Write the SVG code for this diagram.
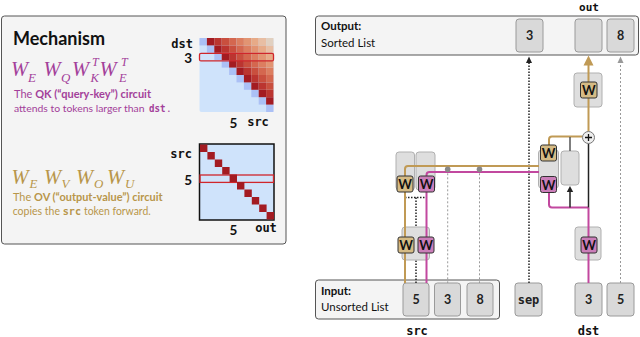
<svg xmlns="http://www.w3.org/2000/svg" width="640" height="337" viewBox="0 0 640 337">
<style>
.sans{font-family:Lato,"Noto Sans","Liberation Sans",sans-serif}
.mono{font-family:"DejaVu Sans Mono","Liberation Mono",monospace;font-weight:bold}
.math{font-family:"Liberation Serif","DejaVu Serif",serif;font-style:italic}
.panel{fill:#f4f4f4;stroke:#555;stroke-width:1}
.tok{fill:#d9d9d9;stroke:#9a9a9a;stroke-width:1}
.comp{fill:#dedede;stroke:#b0b0b0;stroke-width:1}
.wg{fill:#d5bb85;stroke:#333;stroke-width:1}
.wp{fill:#cb7eb9;stroke:#333;stroke-width:1}
.wt{font-family:Lato,"Noto Sans",sans-serif;font-weight:bold;font-size:13px;fill:#111;text-anchor:middle}
.tl{font-family:Lato,"Noto Sans",sans-serif;font-weight:bold;font-size:12.5px;fill:#222;text-anchor:middle}
.gold{fill:none;stroke:#c09a55;stroke-width:2}
.pink{fill:none;stroke:#c2489f;stroke-width:2}
.blk{fill:none;stroke:#222;stroke-width:1.5}
.dotk{fill:none;stroke:#222;stroke-width:1.5;stroke-dasharray:1.5 1.5}
.dotg{fill:none;stroke:#999;stroke-width:1;stroke-dasharray:2 2}
.mg{fill:#a3409a}
.gd{fill:#b8964a}
</style>

<!-- Left panel: mechanism -->
<g id="mechanism-panel">
<rect class="panel" x="1.5" y="16" width="284.5" height="228" rx="3"/>
<text class="sans" x="13" y="45" font-size="18" font-weight="bold" fill="#111">Mechanism</text>
<text class="math mg" font-size="20.5"><tspan x="11" y="76">W</tspan><tspan x="28" y="82" font-size="13">E</tspan><tspan x="43.5" y="76">W</tspan><tspan x="61" y="82" font-size="13">Q</tspan><tspan x="72" y="76">W</tspan><tspan x="90.5" y="81.5" font-size="12.5">K</tspan><tspan x="92" y="66" font-size="12">T</tspan><tspan x="99.5" y="76">W</tspan><tspan x="119" y="81.5" font-size="12.5">E</tspan><tspan x="121" y="66" font-size="12">T</tspan></text>
<text class="sans mg" x="14" y="98" font-size="11.5" textLength="137" lengthAdjust="spacingAndGlyphs">The <tspan font-weight="bold">QK (“query-key”) circuit</tspan></text>
<text class="sans mg" x="14" y="112" font-size="10.4" textLength="130.5" lengthAdjust="spacingAndGlyphs">attends to tokens larger than</text>
<text class="mono mg" x="149" y="112" font-size="10" textLength="16.5" lengthAdjust="spacingAndGlyphs">dst</text>
<text class="sans mg" x="167.5" y="112" font-size="11.5">.</text>
<text class="math gd" font-size="20.5"><tspan x="11.5" y="183.5">W</tspan><tspan x="29.5" y="188" font-size="13">E</tspan><tspan x="44" y="183.5">W</tspan><tspan x="61.5" y="188" font-size="13">V</tspan><tspan x="76" y="183.5">W</tspan><tspan x="94" y="188" font-size="13">O</tspan><tspan x="107" y="183.5">W</tspan><tspan x="125" y="188" font-size="13">U</tspan></text>
<text class="sans gd" x="13" y="201" font-size="11.5" textLength="149.5" lengthAdjust="spacingAndGlyphs">The <tspan font-weight="bold">OV (“output-value”) circuit</tspan></text>
<text class="sans gd" x="12.7" y="214.5" font-size="11.5" textLength="47.3" lengthAdjust="spacingAndGlyphs">copies the</text>
<text class="mono gd" x="62.7" y="214.5" font-size="10" textLength="18.3" lengthAdjust="spacingAndGlyphs">src</text>
<text class="sans gd" x="84" y="214.5" font-size="11.5" textLength="66.7" lengthAdjust="spacingAndGlyphs">token forward.</text>
</g>

<g id="qk-matrix">
<rect x="199.5" y="38" width="74" height="74" rx="2" fill="#cfe3fb"/>
<g fill="#abc0f5">
<rect x="199.5" y="38" width="7.4" height="7.4"/><rect x="206.9" y="45.4" width="7.4" height="7.4"/><rect x="214.3" y="52.8" width="7.4" height="7.4"/><rect x="221.7" y="60.2" width="7.4" height="7.4"/><rect x="229.1" y="67.6" width="7.4" height="7.4"/><rect x="236.5" y="75" width="7.4" height="7.4"/><rect x="243.9" y="82.4" width="7.4" height="7.4"/><rect x="251.3" y="89.8" width="7.4" height="7.4"/><rect x="258.7" y="97.2" width="7.4" height="7.4"/><rect x="266.1" y="104.6" width="7.4" height="7.4"/>
</g>
<g fill="#a31b22">
<rect x="206.9" y="38" width="7.4" height="7.4"/><rect x="214.3" y="45.4" width="7.4" height="7.4"/><rect x="221.7" y="52.8" width="7.4" height="7.4"/><rect x="229.1" y="60.2" width="7.4" height="7.4"/><rect x="236.5" y="67.6" width="7.4" height="7.4"/><rect x="243.9" y="75" width="7.4" height="7.4"/><rect x="251.3" y="82.4" width="7.4" height="7.4"/><rect x="258.7" y="89.8" width="7.4" height="7.4"/><rect x="266.1" y="97.2" width="7.4" height="7.4"/>
</g>
<g fill="#bb3530">
<rect x="214.3" y="38" width="7.4" height="7.4"/><rect x="221.7" y="45.4" width="7.4" height="7.4"/><rect x="229.1" y="52.8" width="7.4" height="7.4"/><rect x="236.5" y="60.2" width="7.4" height="7.4"/><rect x="243.9" y="67.6" width="7.4" height="7.4"/><rect x="251.3" y="75" width="7.4" height="7.4"/><rect x="258.7" y="82.4" width="7.4" height="7.4"/><rect x="266.1" y="89.8" width="7.4" height="7.4"/>
</g>
<g fill="#c94f3e">
<rect x="221.7" y="38" width="7.4" height="7.4"/><rect x="229.1" y="45.4" width="7.4" height="7.4"/><rect x="236.5" y="52.8" width="7.4" height="7.4"/><rect x="243.9" y="60.2" width="7.4" height="7.4"/><rect x="251.3" y="67.6" width="7.4" height="7.4"/><rect x="258.7" y="75" width="7.4" height="7.4"/><rect x="266.1" y="82.4" width="7.4" height="7.4"/>
</g>
<g fill="#d4674f">
<rect x="229.1" y="38" width="7.4" height="7.4"/><rect x="236.5" y="45.4" width="7.4" height="7.4"/><rect x="243.9" y="52.8" width="7.4" height="7.4"/><rect x="251.3" y="60.2" width="7.4" height="7.4"/><rect x="258.7" y="67.6" width="7.4" height="7.4"/><rect x="266.1" y="75" width="7.4" height="7.4"/>
</g>
<g fill="#dc7e60">
<rect x="236.5" y="38" width="7.4" height="7.4"/><rect x="243.9" y="45.4" width="7.4" height="7.4"/><rect x="251.3" y="52.8" width="7.4" height="7.4"/><rect x="258.7" y="60.2" width="7.4" height="7.4"/><rect x="266.1" y="67.6" width="7.4" height="7.4"/>
</g>
<g fill="#e29472">
<rect x="243.9" y="38" width="7.4" height="7.4"/><rect x="251.3" y="45.4" width="7.4" height="7.4"/><rect x="258.7" y="52.8" width="7.4" height="7.4"/><rect x="266.1" y="60.2" width="7.4" height="7.4"/>
</g>
<g fill="#e7aa87">
<rect x="251.3" y="38" width="7.4" height="7.4"/><rect x="258.7" y="45.4" width="7.4" height="7.4"/><rect x="266.1" y="52.8" width="7.4" height="7.4"/>
</g>
<g fill="#e8bea3">
<rect x="258.7" y="38" width="7.4" height="7.4"/><rect x="266.1" y="45.4" width="7.4" height="7.4"/>
</g>
<rect x="266.1" y="38" width="7.4" height="7.4" fill="#e1d0c0"/>
<rect x="199.5" y="53.3" width="74" height="7.6" rx="1.5" fill="none" stroke="#d0262b" stroke-width="1.3"/>
<text class="mono" x="193" y="48" font-size="12" text-anchor="end" fill="#111">dst</text>
<text class="sans" x="192" y="63" font-size="13.5" font-weight="bold" text-anchor="end" fill="#111">3</text>
<text class="sans" x="233.5" y="128" font-size="13.5" font-weight="bold" text-anchor="middle" fill="#111">5</text>
<text class="mono" x="258" y="126" font-size="12" text-anchor="middle" fill="#111">src</text>
</g>

<g id="ov-matrix">
<rect x="199.5" y="144" width="74.5" height="76" fill="#cfe3fb" stroke="#111" stroke-width="1.5"/>
<rect x="200" y="175" width="73.5" height="7.4" fill="none" stroke="#d0262b" stroke-width="1.3"/>
<g fill="#a31b22">
<rect x="200" y="144.5" width="7.4" height="7.5"/><rect x="207.4" y="152" width="7.4" height="7.5"/><rect x="214.8" y="159.5" width="7.4" height="7.5"/><rect x="222.2" y="167" width="7.4" height="7.5"/><rect x="229.6" y="174.5" width="7.4" height="7.5"/><rect x="237" y="182" width="7.4" height="7.5"/><rect x="244.4" y="189.5" width="7.4" height="7.5"/><rect x="251.8" y="197" width="7.4" height="7.5"/><rect x="259.2" y="204.5" width="7.4" height="7.5"/><rect x="266.6" y="212" width="7.4" height="7.5"/>
</g>
<text class="mono" x="192" y="158" font-size="12" text-anchor="end" fill="#111">src</text>
<text class="sans" x="192" y="184.5" font-size="13.5" font-weight="bold" text-anchor="end" fill="#111">5</text>
<text class="sans" x="233.5" y="235" font-size="13.5" font-weight="bold" text-anchor="middle" fill="#111">5</text>
<text class="mono" x="266" y="232" font-size="12" text-anchor="middle" fill="#111">out</text>
</g>

<!-- Right: model diagram -->
<g id="output-list">
<rect class="panel" x="315.5" y="16" width="323" height="39" rx="3" fill="#f6f6f6" stroke="#333"/>
<text class="sans" x="321" y="30" font-size="11.5" font-weight="bold" fill="#111">Output:</text>
<text class="sans" x="321" y="46.5" font-size="11.5" fill="#111">Sorted List</text>
<rect class="tok" x="516" y="19" width="27" height="33" rx="3"/>
<text class="tl" x="529.5" y="40">3</text>
<rect class="tok" x="575" y="19" width="27" height="33" rx="3"/>
<rect class="tok" x="607" y="19" width="27" height="33" rx="3"/>
<text class="tl" x="620.5" y="40">8</text>
<text class="mono" x="589" y="10.5" font-size="11" text-anchor="middle" fill="#111">out</text>
</g>

<g id="input-list">
<rect class="panel" x="315.5" y="280" width="184" height="39" rx="3" fill="#f6f6f6" stroke="#333"/>
<text class="sans" x="321" y="295" font-size="11.5" font-weight="bold" fill="#111">Input:</text>
<text class="sans" x="321" y="310.5" font-size="11.5" fill="#111">Unsorted List</text>
<rect class="tok" x="403" y="283" width="26" height="33" rx="3"/>
<text class="tl" x="416" y="304">5</text>
<rect class="tok" x="434.5" y="283" width="26" height="33" rx="3"/>
<text class="tl" x="447.5" y="304">3</text>
<rect class="tok" x="467" y="283" width="26" height="33" rx="3"/>
<text class="tl" x="480" y="304">8</text>
</g>

<g id="sep-token">
<rect class="tok" x="515" y="283" width="27" height="33" rx="3"/>
<text class="mono" x="528.5" y="304" font-size="12" text-anchor="middle" fill="#222">sep</text>
</g>

<g id="dst-tokens">
<rect class="tok" x="575" y="283" width="27" height="33" rx="3"/>
<text class="tl" x="588.5" y="304">3</text>
<rect class="tok" x="607" y="283" width="27" height="33" rx="3"/>
<text class="tl" x="620.5" y="304">5</text>
</g>

<text class="mono" x="417" y="334.5" font-size="12" text-anchor="middle" fill="#111">src</text>
<text class="mono" x="588.5" y="334.5" font-size="12" text-anchor="middle" fill="#111">dst</text>

<g id="connectors">
<path class="dotk" d="M416,283 V197.5 M405,197.5 H426.5"/>
<path class="dotk" d="M529,283 V62"/>
<path d="M529,56.5 L526,63 L532,63 Z" fill="#222"/>
<path class="dotg" d="M620.5,283 V62"/>
<path d="M620.5,56.5 L617.5,63 L623.5,63 Z" fill="#999"/>
<path class="dotg" d="M447.7,169.3 V283 M479.5,169.3 V283"/>
</g>

<g id="components">
<rect class="comp" x="396" y="152" width="18.5" height="38" rx="3"/>
<rect class="comp" x="416" y="152" width="19" height="38" rx="3"/>
<rect class="comp" x="402" y="227" width="27.5" height="33" rx="3"/>
<rect class="comp" x="538.5" y="150" width="20" height="38" rx="3"/>
<rect class="comp" x="561" y="151" width="18" height="34" rx="3"/>
<rect class="comp" x="575" y="227" width="26" height="33" rx="3"/>
<rect class="comp" x="574" y="73" width="28" height="34" rx="3"/>
</g>

<g id="residual-lines">
<path class="gold" d="M405,283 V169 Q405,166 408,166 H539"/>
<path class="pink" d="M426.5,283 V175 Q426.5,172 429.5,172 H539"/>
<circle cx="447.7" cy="169.3" r="2.8" fill="#888"/>
<circle cx="479.5" cy="169.3" r="2.8" fill="#888"/>
<path class="gold" d="M549,145 V139.5 Q549,136.5 552,136.5 H582.5"/>
<path class="gold" d="M588.5,131.5 V64"/>
<path d="M588.5,55.5 L583.5,65.5 L593.5,65.5 Z" fill="#c09a55"/>
<path class="pink" d="M549,192 V204.5 Q549,207.5 552,207.5 H588.5"/>
<path class="pink" d="M588.5,283 V207.5"/>
<path class="blk" d="M588.5,143.5 V207.5"/>
<path d="M570,151 V137" fill="none" stroke="#555" stroke-width="1.5"/>
<path class="blk" d="M570,207.5 V191"/>
<path d="M570,186 L566.8,192 L573.2,192 Z" fill="#222"/>
<circle cx="588.5" cy="137.5" r="6" fill="#eeeeee" stroke="#777" stroke-width="1"/>
<path d="M585,137.5 H592 M588.5,134 V141" stroke="#111" stroke-width="1.3"/>
</g>

<g id="w-blocks">
<rect class="wg" x="397" y="176" width="16" height="16" rx="2"/><text class="wt" x="405" y="189">W</text>
<rect class="wp" x="418.5" y="176" width="16" height="16" rx="2"/><text class="wt" x="426.5" y="189">W</text>
<rect class="wg" x="398" y="237" width="16" height="16" rx="2"/><text class="wt" x="406" y="250">W</text>
<rect class="wp" x="418" y="237" width="16" height="16" rx="2"/><text class="wt" x="426" y="250">W</text>
<rect class="wg" x="540.5" y="145" width="16" height="16" rx="2"/><text class="wt" x="548.5" y="158">W</text>
<rect class="wp" x="540.5" y="176.5" width="16" height="16" rx="2"/><text class="wt" x="548.5" y="189.5">W</text>
<rect class="wp" x="581" y="237" width="16" height="16" rx="2"/><text class="wt" x="589" y="250">W</text>
<rect class="wg" x="580.5" y="82" width="16.5" height="16" rx="2"/><text class="wt" x="588.8" y="95">W</text>
</g>
</svg>
